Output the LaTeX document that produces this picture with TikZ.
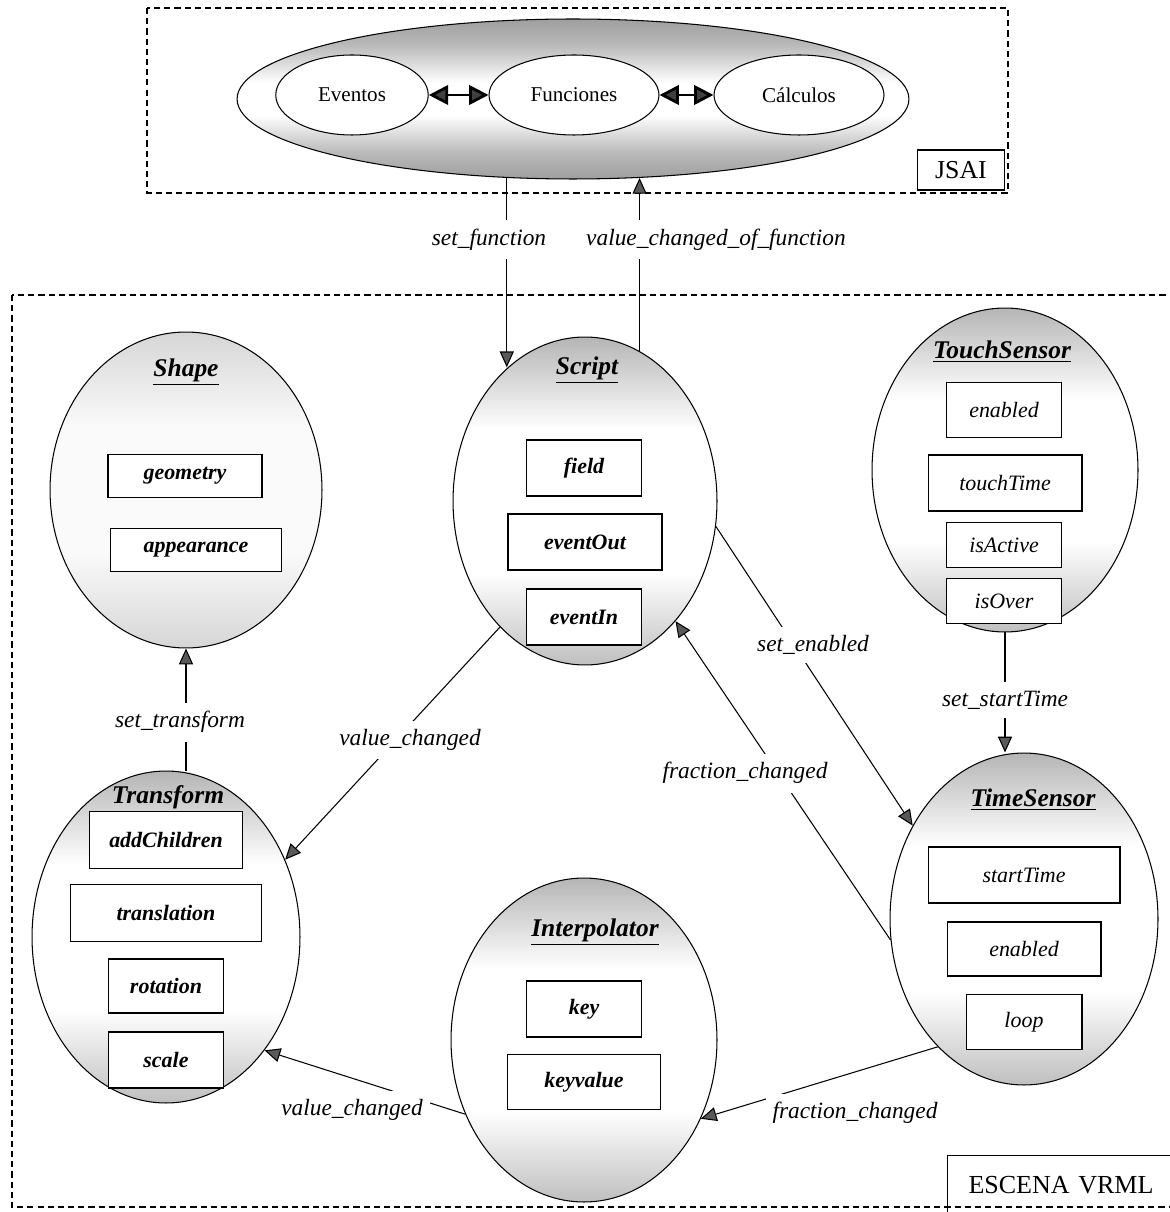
\documentclass[tikz,border=0pt]{standalone}
\usepackage{fontspec}
\setmainfont{Liberation Serif}
\usetikzlibrary{shapes.geometric,arrows.meta}

% sombreado de los nodos (gris arriba y abajo, blanco en medio)
\pgfdeclareverticalshading{sombra}{100bp}{color(0bp)=(gray!50); color(25bp)=(gray!50); color(39bp)=(white); color(61bp)=(white); color(75bp)=(gray!58); color(100bp)=(gray!58)}
\pgfdeclareverticalshading{sombraclara}{100bp}{color(0bp)=(gray!32); color(25bp)=(gray!32); color(40bp)=(gray!4); color(60bp)=(gray!4); color(75bp)=(gray!32); color(100bp)=(gray!32)}
\pgfdeclareverticalshading{sombrajsai}{100bp}{color(0bp)=(gray!75); color(25bp)=(gray!75); color(33bp)=(gray!55); color(45bp)=(white); color(55bp)=(white); color(67bp)=(gray!55); color(75bp)=(gray!75); color(100bp)=(gray!75)}

\begin{document}
\begin{tikzpicture}[x=0.02cm, y=-0.02cm,
  every node/.style={font=\fontsize{12}{14}\selectfont},
  marco/.style={dash pattern=on 3.5pt off 2.3pt, line width=0.6pt},
  nodo/.style={ellipse, draw, line width=0.6pt, shade, shading=sombra, inner sep=0pt},
  interno/.style={ellipse, draw, fill=white, line width=0.6pt, minimum height=1.6cm, inner sep=0pt},
  campo/.style={rectangle, draw, fill=white, line width=0.6pt, inner sep=0pt, font=\fontsize{12.5}{15}\selectfont\bfseries\itshape},
  campofino/.style={campo, font=\fontsize{12.5}{15}\selectfont\itshape},
  titulo/.style={font=\fontsize{14.5}{17}\selectfont\bfseries\itshape},
  etiq/.style={fill=white, inner xsep=4pt, inner ysep=5pt, font=\fontsize{13.3}{16}\selectfont\itshape},
  flecha/.style={line width=0.6pt, -{Triangle[length=9pt, width=8pt, fill=black!65]}},
  doble/.style={line width=1.6pt, {Triangle[length=11pt, width=11pt, fill=black!75]}-{Triangle[length=11pt, width=11pt, fill=black!75]}}
]
  \useasboundingbox (0,0) rectangle (1169,1212);

  % Marcos
  \draw[marco] (147,8) rectangle (1008,193);
  \draw[marco] (12,295) rectangle (1190,1207);
  \node[draw, line width=0.6pt, minimum width=1.74cm, minimum height=0.8cm, font=\fontsize{14.7}{17}\selectfont] (jsaibox) at (961,170) {JSAI};
  \node[draw, line width=0.6pt, anchor=north west, minimum height=1.2cm, text width=3.9cm, inner xsep=0.42cm, align=left, font=\fontsize{14.8}{17}\selectfont] (escena) at (947,1155) {ESCENA VRML};

  % JSAI
  \node[nodo, shading=sombrajsai, minimum width=13.44cm, minimum height=3.2cm] (jsai) at (573,99) {};
  \node[interno, minimum width=3.05cm] (eventos) at (352,95) {Eventos};
  \node[interno, minimum width=3.4cm] (funciones) at (574,95) {Funciones};
  \node[interno, minimum width=3.4cm] (calculos) at (799,95) {Cálculos};
  \draw[doble] (eventos) -- (funciones);
  \draw[doble] (funciones) -- (calculos);

  % Shape
  \node[nodo, shading=sombraclara, minimum width=5.44cm, minimum height=6.32cm] (shape) at (186,490) {};
  \node[titulo] (shapetit) at (186,372) {\underline{Shape}};
  \node[campo, minimum width=3.08cm, minimum height=0.86cm] (geometry) at (185,476) {geometry};
  \node[campo, minimum width=3.42cm, minimum height=0.86cm] (appearance) at (196,550) {appearance};

  % Script
  \node[nodo, minimum width=5.28cm, minimum height=6.56cm] (script) at (585,501) {};
  \node[titulo] (scripttit) at (587,370) {\underline{Script}};
  \node[campo, minimum width=2.3cm, minimum height=1.12cm] (field) at (584,468) {field};
  \node[campo, minimum width=3.08cm, minimum height=1.12cm] (eventOut) at (585,542) {eventOut};
  \node[campo, minimum width=2.3cm, minimum height=1.12cm] (eventIn) at (584,617) {eventIn};

  % TouchSensor
  \node[nodo, minimum width=5.32cm, minimum height=6.48cm] (touch) at (1005,470) {};
  \node[titulo] (touchtit) at (1002,352) {\underline{TouchSensor}};
  \node[campofino, minimum width=2.3cm, minimum height=1.1cm] (tenabled) at (1004,410) {enabled};
  \node[campofino, minimum width=3.08cm, minimum height=1.12cm] (touchTime) at (1005,483) {touchTime};
  \node[campofino, minimum width=2.3cm, minimum height=0.9cm] (isActive) at (1004,545) {isActive};
  \node[campofino, minimum width=2.3cm, minimum height=0.9cm] (isOver) at (1004,601) {isOver};

  % TimeSensor
  \node[nodo, minimum width=5.36cm, minimum height=6.64cm] (time) at (1024,919) {};
  \node[titulo] (timetit) at (1033,800) {\underline{TimeSensor}};
  \node[campofino, minimum width=3.84cm, minimum height=1.12cm] (startTime) at (1024,875) {startTime};
  \node[campofino, minimum width=3.08cm, minimum height=1.08cm] (senabled) at (1024,949) {enabled};
  \node[campofino, minimum width=2.32cm, minimum height=1.1cm] (loop) at (1024,1022) {loop};

  % Transform
  \node[nodo, minimum width=5.36cm, minimum height=6.64cm] (transform) at (166,937) {};
  \node[titulo] (transftit) at (168,799) {\underline{Transform}};
  \node[campo, minimum width=3.06cm, minimum height=1.14cm] (addChildren) at (166,840) {addChildren};
  \node[campo, minimum width=3.82cm, minimum height=1.14cm] (translation) at (166,913) {translation};
  \node[campo, minimum width=2.3cm, minimum height=1.08cm] (rotation) at (166,986) {rotation};
  \node[campo, minimum width=2.3cm, minimum height=1.12cm] (scale) at (166,1060) {scale};

  % Interpolator
  \node[nodo, minimum width=5.32cm, minimum height=6.48cm] (interp) at (584,1040) {};
  \node[titulo] (interptit) at (595,932) {\underline{Interpolator}};
  \node[campo, minimum width=2.3cm, minimum height=1.12cm] (key) at (584,1009) {key};
  \node[campo, minimum width=3.06cm, minimum height=1.1cm] (keyvalue) at (584,1082) {keyvalue};

  % Rutas de eventos
  \draw[flecha] (jsai.230) -- (jsai.230 |- script.120);
  \draw[flecha] (script.70) -- (script.70 |- jsai.310);
  \draw[flecha] (transform.north -| shape.south) -- (shape.south);
  \draw[flecha] (script.236) -- (transform.33);
  \draw[flecha] (script.349) -- (time.140);
  \draw[flecha] (time.189) -- (script.307);
  \draw[flecha] (touch.south) -- (touch.south |- time.north);
  \draw[flecha] (time.236) -- (interp.326);
  \draw[flecha] (interp.212) -- (transform.311);

  % etiquetas
  \node[etiq] (lsetf) at (489,240) {set\_function};
  \node[etiq] (lvcof) at (716,240) {value\_changed\_of\_function};
  \node[etiq] (lsett) at (180,722) {set\_transform};
  \node[etiq] (lvcup) at (410,740) {value\_changed};
  \node[etiq] (lsete) at (813,645) {set\_enabled};
  \node[etiq] (lfcup) at (745,773) {fraction\_changed};
  \node[etiq] (lsst) at (1005,700) {set\_startTime};
  \node[etiq] (lvcdn) at (352,1110) {value\_changed};
  \node[etiq] (lfcdn) at (855,1113) {fraction\_changed};
\end{tikzpicture}
\end{document}
